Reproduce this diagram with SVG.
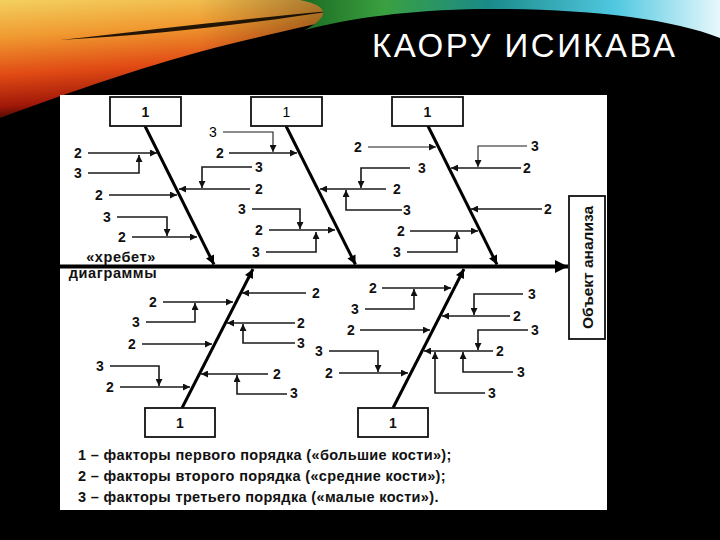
<svg xmlns="http://www.w3.org/2000/svg" width="720" height="540" viewBox="0 0 720 540">
<defs>
<linearGradient id="warm" x1="0" y1="0" x2="0.25" y2="1">
<stop offset="0" stop-color="#f3d060"/>
<stop offset="0.3" stop-color="#f09a30"/>
<stop offset="0.6" stop-color="#e04a14"/>
<stop offset="0.85" stop-color="#a01808"/>
<stop offset="1" stop-color="#200400"/>
</linearGradient>
<linearGradient id="warmfade" x1="0" y1="0" x2="1" y2="0">
<stop offset="0.45" stop-color="#000" stop-opacity="0"/>
<stop offset="1" stop-color="#000" stop-opacity="0.6"/>
</linearGradient>
<linearGradient id="cool" x1="0" y1="0" x2="1" y2="0">
<stop offset="0" stop-color="#1a6a20"/>
<stop offset="0.2" stop-color="#3aa040"/>
<stop offset="0.45" stop-color="#1a8a8a"/>
<stop offset="0.75" stop-color="#50c8e0"/>
<stop offset="1" stop-color="#e8f8fc"/>
</linearGradient>
<marker id="ah" viewBox="0 0 10 10" refX="10" refY="5" markerWidth="8" markerHeight="7" markerUnits="userSpaceOnUse" orient="auto"><path d="M0,0 L10,5 L0,10 z" fill="#111"/></marker>
<marker id="bh" viewBox="0 0 10 10" refX="10" refY="5" markerWidth="11" markerHeight="9" markerUnits="userSpaceOnUse" orient="auto"><path d="M0,0 L10,5 L0,10 z" fill="#000"/></marker>
<marker id="sh" viewBox="0 0 10 10" refX="10" refY="5" markerWidth="14" markerHeight="13" markerUnits="userSpaceOnUse" orient="auto"><path d="M0,0 L10,5 L0,10 z" fill="#000"/></marker>
<style>
.box{fill:#fff;stroke:#111;stroke-width:1.8}
.bone{stroke:#000;stroke-width:3;fill:none;marker-end:url(#bh)}
.ar{stroke:#1a1a1a;stroke-width:1.6;fill:none;marker-end:url(#ah)}
.thin{stroke-width:1.1}
.t{font-family:"Liberation Sans",Arial,sans-serif;font-size:14px;font-weight:bold;fill:#111;text-anchor:middle}
.r{font-weight:normal;fill:#000}
.sp{font-size:14.5px;letter-spacing:0.6px}
.big{font-size:15.5px}
.lg{font-family:"Liberation Sans",Arial,sans-serif;font-size:14.5px;font-weight:bold;fill:#111;letter-spacing:0.35px}
</style>
</defs>
<g id="background">
<rect x="0" y="0" width="720" height="540" fill="#000"/>
<path d="M0,0 L440,0 C390,8 320,22 230,44 C150,64 70,92 0,118 Z" fill="url(#warm)"/>
<path d="M0,0 L440,0 C390,8 320,22 230,44 C150,64 70,92 0,118 Z" fill="url(#warmfade)"/>
<path d="M60,40 C150,30 250,18 340,10 C260,22 170,34 60,40 Z" fill="#000" opacity="0.85"/>
<path d="M300,0 L720,0 L720,38 C670,18 580,8 480,9 C410,10 350,18 305,30 C330,16 330,6 300,0 Z" fill="url(#cool)"/>
<text x="372" y="57" font-family="'Liberation Sans',Arial,sans-serif" font-size="33" fill="#fff" letter-spacing="2.5">КАОРУ ИСИКАВА</text>
</g>
<rect id="panel" x="60" y="95" width="547" height="415" fill="#fff"/>
<g id="connectors">
<line x1="60" y1="266.5" x2="568" y2="266.5" stroke="#000" stroke-width="4" marker-end="url(#sh)"/>
<line class="bone" x1="145" y1="126" x2="214" y2="264.5"/>
<line class="bone" x1="286" y1="126" x2="355.5" y2="264.5"/>
<line class="bone" x1="428" y1="126" x2="497" y2="264.5"/>
<line class="bone" x1="182" y1="408" x2="253" y2="269"/>
<line class="bone" x1="393" y1="408" x2="464" y2="269"/>
<path class="ar" d="M88,153 H157"/>
<path class="ar" d="M88,173 H139 V155"/>
<path class="ar" d="M109,195 H177"/>
<path class="ar" d="M117,217 H167 V236"/>
<path class="ar" d="M132,237 H197"/>
<path class="ar" d="M250,189 H179"/>
<path class="ar" d="M252,167 H202 V188"/>
<path class="ar thin" d="M223,132 H273 V152"/>
<path class="ar" d="M229,153 H297"/>
<path class="ar" d="M252,209 H300 V229"/>
<path class="ar" d="M269,230 H335"/>
<path class="ar" d="M266,252 H316 V232"/>
<path class="ar" d="M386,189 H320"/>
<path class="ar" d="M410,168 H361 V188"/>
<path class="ar" d="M402,210 H346 V190"/>
<path class="ar thin" d="M368,147 H436"/>
<path class="ar" d="M410,231 H478"/>
<path class="ar" d="M407,252 H457 V232"/>
<path class="ar thin" d="M527,146 H478 V167"/>
<path class="ar" d="M521,168 H451"/>
<path class="ar" d="M542,209 H471"/>
<path class="ar" d="M163,302 H233"/>
<path class="ar" d="M146,322 H195 V303"/>
<path class="ar" d="M142,344 H212"/>
<path class="ar" d="M110,366 H159 V386"/>
<path class="ar" d="M120,387 H190"/>
<path class="ar" d="M306,293 H242"/>
<path class="ar" d="M295,323 H227"/>
<path class="ar" d="M295,343 H243 V324"/>
<path class="ar" d="M268,374 H201"/>
<path class="ar" d="M287,394 H237 V375"/>
<path class="ar" d="M382,288 H451"/>
<path class="ar" d="M365,309 H414 V289"/>
<path class="ar" d="M360,330 H430"/>
<path class="ar" d="M329,351 H378 V372"/>
<path class="ar" d="M339,373 H408"/>
<path class="ar" d="M523,294 H474 V315"/>
<path class="ar" d="M510,316 H442"/>
<path class="ar" d="M528,330 H478 V350"/>
<path class="ar" d="M493,351 H424"/>
<path class="ar" d="M513,372 H463 V352"/>
<path class="ar" d="M485,393 H435 V352"/>
</g>
<g id="top-box-1"><rect class="box" x="110" y="97" width="71" height="29"/><text class="t" x="145.5" y="117">1</text></g>
<g id="top-box-2"><rect class="box" x="251" y="97" width="71" height="29"/><text class="t r" x="286.5" y="117">1</text></g>
<g id="top-box-3"><rect class="box" x="392" y="97" width="71" height="29"/><text class="t" x="427.5" y="117">1</text></g>
<g id="bottom-box-1"><rect class="box" x="145" y="408" width="70" height="29"/><text class="t" x="180" y="428">1</text></g>
<g id="bottom-box-2"><rect class="box" x="358" y="408" width="70" height="29"/><text class="t" x="393" y="428">1</text></g>
<g id="effect-box"><rect class="box" x="569" y="196" width="36" height="143"/><text class="t big" transform="translate(592.5,267.5) rotate(-90)">Объект анализа</text></g>
<g id="spine-label"><text class="t sp" x="121" y="262">«хребет»</text><text class="t sp" x="113" y="278">диаграммы</text></g>
<g id="labels">
<text class="t" x="78" y="158">2</text>
<text class="t" x="78" y="178">3</text>
<text class="t" x="99" y="200">2</text>
<text class="t" x="107" y="222">3</text>
<text class="t" x="122" y="242">2</text>
<text class="t" x="259" y="194">2</text>
<text class="t" x="259" y="172">3</text>
<text class="t r" x="213" y="137">3</text>
<text class="t" x="220" y="158">2</text>
<text class="t" x="242" y="214">3</text>
<text class="t" x="259" y="235">2</text>
<text class="t" x="256" y="257">3</text>
<text class="t" x="397" y="194">2</text>
<text class="t" x="422" y="173">3</text>
<text class="t" x="407" y="215">3</text>
<text class="t" x="358" y="152">2</text>
<text class="t" x="401" y="236">2</text>
<text class="t" x="397" y="257">3</text>
<text class="t" x="535" y="151">3</text>
<text class="t" x="527" y="173">2</text>
<text class="t" x="548" y="214">2</text>
<text class="t" x="153" y="307">2</text>
<text class="t" x="136" y="327">3</text>
<text class="t" x="132" y="349">2</text>
<text class="t" x="100" y="371">3</text>
<text class="t" x="110" y="392">2</text>
<text class="t" x="316" y="298">2</text>
<text class="t" x="301" y="328">2</text>
<text class="t" x="301" y="348">3</text>
<text class="t" x="277" y="379">2</text>
<text class="t" x="294" y="398">3</text>
<text class="t" x="373" y="293">2</text>
<text class="t" x="355" y="314">3</text>
<text class="t" x="351" y="335">2</text>
<text class="t" x="319" y="356">3</text>
<text class="t" x="329" y="378">2</text>
<text class="t" x="532" y="299">3</text>
<text class="t" x="517" y="321">2</text>
<text class="t" x="535" y="335">3</text>
<text class="t" x="500" y="356">2</text>
<text class="t" x="521" y="377">3</text>
<text class="t" x="492" y="398">3</text>
</g>
<g id="legend">
<text class="lg" x="78" y="460">1 – факторы первого порядка («большие кости»);</text>
<text class="lg" x="78" y="481">2 – факторы второго порядка («средние кости»);</text>
<text class="lg" x="78" y="502">3 – факторы третьего порядка («малые кости»).</text>
</g>
</svg>
